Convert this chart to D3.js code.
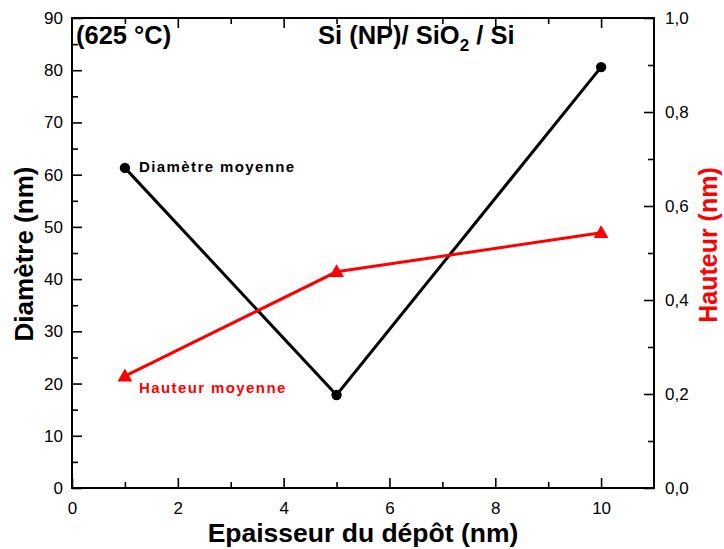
<!DOCTYPE html>
<html>
<head>
<meta charset="utf-8">
<script src="https://cdn.jsdelivr.net/npm/d3@7"></script>
<style>
  html, body { margin: 0; padding: 0; background: #fff; }
  svg { display: block; font-family: "Liberation Sans", Arial, sans-serif; }
  svg text { font-family: "Liberation Sans", Arial, sans-serif; }
</style>
</head>
<body>
<svg id="chart" width="724" height="549"></svg>
<script>
// Deposit thickness (nm)
const thickness = [1, 5, 10];
// Mean nanoparticle diameter (nm), left axis
const diameter = [61.3, 17.8, 80.6];
// Mean nanoparticle height (nm), right axis
const height = [0.238, 0.46, 0.543];

const xTicks = [0, 2, 4, 6, 8, 10];
const yLeftTicks = [0, 10, 20, 30, 40, 50, 60, 70, 80, 90];
const yRightTicks = [0, 0.2, 0.4, 0.6, 0.8, 1.0];

const FONT = "'Liberation Sans', Arial, sans-serif";
const svg = d3.select("#chart");
const m = { left: 72, right: 654, top: 18, bottom: 488 };

const x = d3.scaleLinear().domain([0, 11]).range([m.left, m.right]);
const yL = d3.scaleLinear().domain([0, 90]).range([m.bottom, m.top]);
const yR = d3.scaleLinear().domain([0, 1]).range([m.bottom, m.top]);

const comma = d => d3.format(".1f")(d).replace(".", ",");

function styleAxis(g, fontSize) {
  g.attr("font-family", FONT);
  g.select(".domain").remove();
  g.selectAll(".tick line").attr("stroke", "#000").attr("stroke-width", 1.6);
  g.selectAll(".tick text").attr("fill", "#000").style("font-size", fontSize + "px")
    .style("font-family", FONT);
}

// Bottom axis (major + minor), ticks pointing inward
const bx = svg.append("g").attr("transform", `translate(0,${m.bottom})`)
  .call(d3.axisBottom(x).tickValues(xTicks).tickSizeInner(-10).tickSizeOuter(0).tickPadding(10));
styleAxis(bx, 17);
bx.selectAll(".tick text").attr("dy", "0.95em");
const bxm = svg.append("g").attr("transform", `translate(0,${m.bottom})`)
  .call(d3.axisBottom(x).tickValues(d3.range(1, 11, 2)).tickSizeInner(-6).tickSizeOuter(0).tickFormat(""));
styleAxis(bxm, 17);

// Top axis ticks (no labels)
const tx = svg.append("g").attr("transform", `translate(0,${m.top})`)
  .call(d3.axisTop(x).tickValues(xTicks.filter(d => d > 0)).tickSizeInner(-10).tickSizeOuter(0).tickFormat(""));
styleAxis(tx, 17);
const txm = svg.append("g").attr("transform", `translate(0,${m.top})`)
  .call(d3.axisTop(x).tickValues(d3.range(1, 11, 2)).tickSizeInner(-6).tickSizeOuter(0).tickFormat(""));
styleAxis(txm, 17);

// Left axis: diameter
const ly = svg.append("g").attr("transform", `translate(${m.left},0)`)
  .call(d3.axisLeft(yL).tickValues(yLeftTicks).tickSizeInner(-10).tickSizeOuter(0).tickPadding(9));
styleAxis(ly, 17);
const lym = svg.append("g").attr("transform", `translate(${m.left},0)`)
  .call(d3.axisLeft(yL).tickValues(d3.range(5, 90, 10)).tickSizeInner(-6).tickSizeOuter(0).tickFormat(""));
styleAxis(lym, 17);

// Right axis: height
const ry = svg.append("g").attr("transform", `translate(${m.right},0)`)
  .call(d3.axisRight(yR).tickValues(yRightTicks).tickSizeInner(-10).tickSizeOuter(0).tickPadding(11).tickFormat(comma));
styleAxis(ry, 17);
const rym = svg.append("g").attr("transform", `translate(${m.right},0)`)
  .call(d3.axisRight(yR).tickValues(d3.range(0.1, 1, 0.2)).tickSizeInner(-6).tickSizeOuter(0).tickFormat(""));
styleAxis(rym, 17);

// Frame
svg.append("rect")
  .attr("x", m.left).attr("y", m.top)
  .attr("width", m.right - m.left).attr("height", m.bottom - m.top)
  .attr("fill", "none").attr("stroke", "#000").attr("stroke-width", 2);

// Diameter series
const lineD = d3.line().x((d, i) => x(thickness[i])).y(d => yL(d));
svg.append("path").datum(diameter)
  .attr("d", lineD).attr("fill", "none").attr("stroke", "#000").attr("stroke-width", 3);
svg.selectAll(".ptD").data(diameter).join("circle")
  .attr("cx", (d, i) => x(thickness[i])).attr("cy", d => yL(d)).attr("r", 5.2).attr("fill", "#000");

// Height series
const lineH = d3.line().x((d, i) => x(thickness[i])).y(d => yR(d));
svg.append("path").datum(height)
  .attr("d", lineH).attr("fill", "none").attr("stroke", "#ff0000").attr("stroke-width", 3);
const tri = d3.symbol().type(d3.symbolTriangle).size(95);
svg.selectAll(".ptH").data(height).join("path")
  .attr("d", tri)
  .attr("transform", (d, i) => `translate(${x(thickness[i])},${yR(d) + 1})`)
  .attr("fill", "#ff0000");

// Series labels
svg.append("text").attr("x", 139).attr("y", 172)
  .style("font-size", "15px").style("font-weight", "bold").style("letter-spacing", "1.4px")
  .attr("fill", "#000").text("Diamètre moyenne");
svg.append("text").attr("x", 139).attr("y", 393)
  .style("font-size", "15px").style("font-weight", "bold").style("letter-spacing", "1.4px")
  .attr("fill", "#ff0000").text("Hauteur moyenne");

// Annotations
svg.append("text").attr("x", 76).attr("y", 44)
  .style("font-size", "25.5px").style("font-weight", "bold").attr("fill", "#000").text("(625 °C)");
const t2 = svg.append("text").attr("x", 318).attr("y", 44)
  .style("font-size", "25.5px").style("font-weight", "bold").attr("fill", "#000");
t2.append("tspan").text("Si (NP)/ SiO");
t2.append("tspan").attr("dy", 7).style("font-size", "17px").text("2");
t2.append("tspan").attr("dy", -7).text(" / Si");

// Axis titles
svg.append("text").attr("x", 363).attr("y", 542).attr("text-anchor", "middle")
  .style("font-size", "26.5px").style("font-weight", "bold").attr("fill", "#000")
  .text("Epaisseur du dépôt (nm)");
svg.append("text").attr("transform", `translate(33,254) rotate(-90)`).attr("text-anchor", "middle")
  .style("font-size", "26px").style("font-weight", "bold").attr("fill", "#000")
  .text("Diamètre (nm)");
svg.append("text").attr("transform", `translate(717,245) rotate(-90)`).attr("text-anchor", "middle")
  .style("font-size", "25px").style("font-weight", "bold").attr("fill", "#ff0000")
  .text("Hauteur (nm)");
</script>
</body>
</html>
